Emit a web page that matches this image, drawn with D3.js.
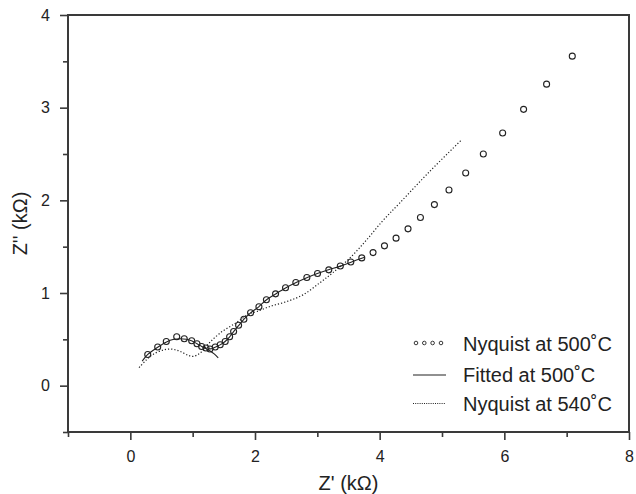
<!DOCTYPE html>
<html><head><meta charset="utf-8">
<script src="https://cdn.jsdelivr.net/npm/d3@7"></script>
<style>body{margin:0;background:#fff}svg{display:block}text{font-family:"Liberation Sans",Arial,sans-serif;fill:#222}</style>
</head><body>
<svg id="c" width="636" height="494"></svg>
<script>
// Nyquist at 500˚C (measured points)
const nyq500X = [0.279,0.439,0.577,0.744,0.865,0.984,1.069,1.144,1.213,1.277,1.362,1.442,1.522,1.593,1.657,1.737,1.822,1.929,2.063,2.183,2.330,2.490,2.655,2.832,3.003,3.184,3.369,3.537,3.713,3.894,4.077,4.263,4.455,4.654,4.878,5.112,5.380,5.663,5.973,6.309,6.678,7.090];
const nyq500Y = [0.337,0.417,0.477,0.528,0.506,0.485,0.453,0.423,0.406,0.395,0.417,0.442,0.477,0.528,0.585,0.652,0.717,0.787,0.851,0.927,0.991,1.056,1.113,1.167,1.210,1.250,1.291,1.334,1.379,1.436,1.509,1.592,1.692,1.814,1.954,2.112,2.295,2.500,2.726,2.982,3.254,3.556];
// Fitted at 500˚C (two arcs)
const fit1X = [0.19,0.28,0.44,0.58,0.70,0.80,0.90,0.99,1.07,1.14,1.21,1.28,1.35,1.41];
const fit1Y = [0.265,0.337,0.415,0.472,0.500,0.507,0.500,0.482,0.452,0.425,0.400,0.375,0.340,0.300];
const fit2X = [1.25,1.30,1.36,1.44,1.52,1.59,1.66,1.74,1.82,1.93,2.06,2.18,2.33,2.49,2.66,2.83,3.00,3.18,3.37,3.54,3.76];
const fit2Y = [0.398,0.398,0.415,0.440,0.477,0.525,0.585,0.650,0.715,0.785,0.851,0.925,0.990,1.055,1.113,1.165,1.210,1.250,1.290,1.333,1.385];
// Nyquist at 540˚C
const nyq540X = [0.14,0.26,0.37,0.53,0.66,0.80,0.93,1.01,1.12,1.25,1.44,1.70,1.92,2.03,2.24,2.51,2.77,3.04,3.25,3.52,3.79,4.05,4.32,4.80,5.31];
const nyq540Y = [0.195,0.280,0.340,0.385,0.395,0.370,0.327,0.316,0.352,0.450,0.568,0.680,0.780,0.800,0.855,0.908,0.980,1.110,1.220,1.376,1.573,1.780,1.970,2.310,2.650];

const xMajor = [0,2,4,6,8], xMinor = [-1,1,3,5,7];
const yMajor = [0,1,2,3,4], yMinor = [-0.5,0.5,1.5,2.5,3.5];
const legendLabels = ["Nyquist at 500˚C","Fitted at 500˚C","Nyquist at 540˚C"];
const xTitle = "Z' (kΩ)", yTitle = "Z'' (kΩ)";

const svg = d3.select("#c");
const L=68, R=629, T=15, B=432;
const x = d3.scaleLinear().domain([-1,8]).range([L,R]);
const y = d3.scaleLinear().domain([-0.5,4]).range([B,T]);
const axisCol = "#3a3a3a";

// axes
const gx = svg.append("g").attr("transform",`translate(0,${B})`);
gx.call(d3.axisBottom(x).tickValues(xMajor).tickSize(8).tickPadding(11).tickFormat(d3.format("d")));
const gxm = svg.append("g").attr("transform",`translate(0,${B})`);
gxm.call(d3.axisBottom(x).tickValues(xMinor).tickSize(5).tickFormat(""));
const gy = svg.append("g").attr("transform",`translate(${L},0)`);
gy.call(d3.axisLeft(y).tickValues(yMajor).tickSize(8).tickPadding(10).tickFormat(d3.format("d")));
const gym = svg.append("g").attr("transform",`translate(${L},0)`);
gym.call(d3.axisLeft(y).tickValues(yMinor).tickSize(5).tickFormat(""));
[gx,gxm,gy,gym].forEach(g=>{
  g.select(".domain").remove();
  g.selectAll(".tick line").attr("stroke",axisCol).attr("stroke-width",1.6);
  g.selectAll(".tick text").attr("font-size",16).attr("fill","#222").style("font-family","'Liberation Sans',Arial,sans-serif");
});
// frame
svg.append("rect").attr("x",L).attr("y",T).attr("width",R-L).attr("height",B-T)
  .attr("fill","none").attr("stroke",axisCol).attr("stroke-width",2);

// titles
svg.append("text").attr("x",(L+R)/2).attr("y",490).attr("text-anchor","middle").attr("font-size",20).text(xTitle);
svg.append("text").attr("transform",`translate(27,${(T+B)/2}) rotate(-90)`).attr("text-anchor","middle").attr("font-size",20).text(yTitle);

const line = d3.line().x(d=>x(d[0])).y(d=>y(d[1])).curve(d3.curveCatmullRom);
const zip = (a,b)=>a.map((v,i)=>[v,b[i]]);

// 540 dotted
svg.append("path").datum(zip(nyq540X,nyq540Y)).attr("d",line).attr("fill","none")
  .attr("stroke","#222").attr("stroke-width",1.2).attr("stroke-dasharray","1.2,2");
// fitted solid
[zip(fit1X,fit1Y),zip(fit2X,fit2Y)].forEach(dat=>{
  svg.append("path").datum(dat).attr("d",line).attr("fill","none").attr("stroke","#222").attr("stroke-width",1.1);
});
// circles
svg.append("g").selectAll("circle").data(zip(nyq500X,nyq500Y)).join("circle")
  .attr("cx",d=>x(d[0])).attr("cy",d=>y(d[1])).attr("r",3)
  .attr("fill","none").attr("stroke","#222").attr("stroke-width",1.1);

// legend
const lg = svg.append("g");
const sx0=413, sx1=446, tx=463;
const rowsY=[343,375,403.5], baseY=[350.5,381.5,411];
[416,424.3,432.6,441].forEach(cx=>lg.append("circle").attr("cx",cx).attr("cy",rowsY[0]).attr("r",1.8)
  .attr("fill","none").attr("stroke","#222").attr("stroke-width",0.9));
lg.append("line").attr("x1",sx0).attr("x2",sx1).attr("y1",rowsY[1]).attr("y2",rowsY[1]).attr("stroke","#222").attr("stroke-width",1.1);
lg.append("line").attr("x1",sx0).attr("x2",sx1).attr("y1",rowsY[2]).attr("y2",rowsY[2]).attr("stroke","#222").attr("stroke-width",1.1).attr("stroke-dasharray","1,1.2");
legendLabels.forEach((t,i)=>lg.append("text").attr("x",tx).attr("y",baseY[i]).attr("font-size",20).text(t));
</script>
</body></html>
